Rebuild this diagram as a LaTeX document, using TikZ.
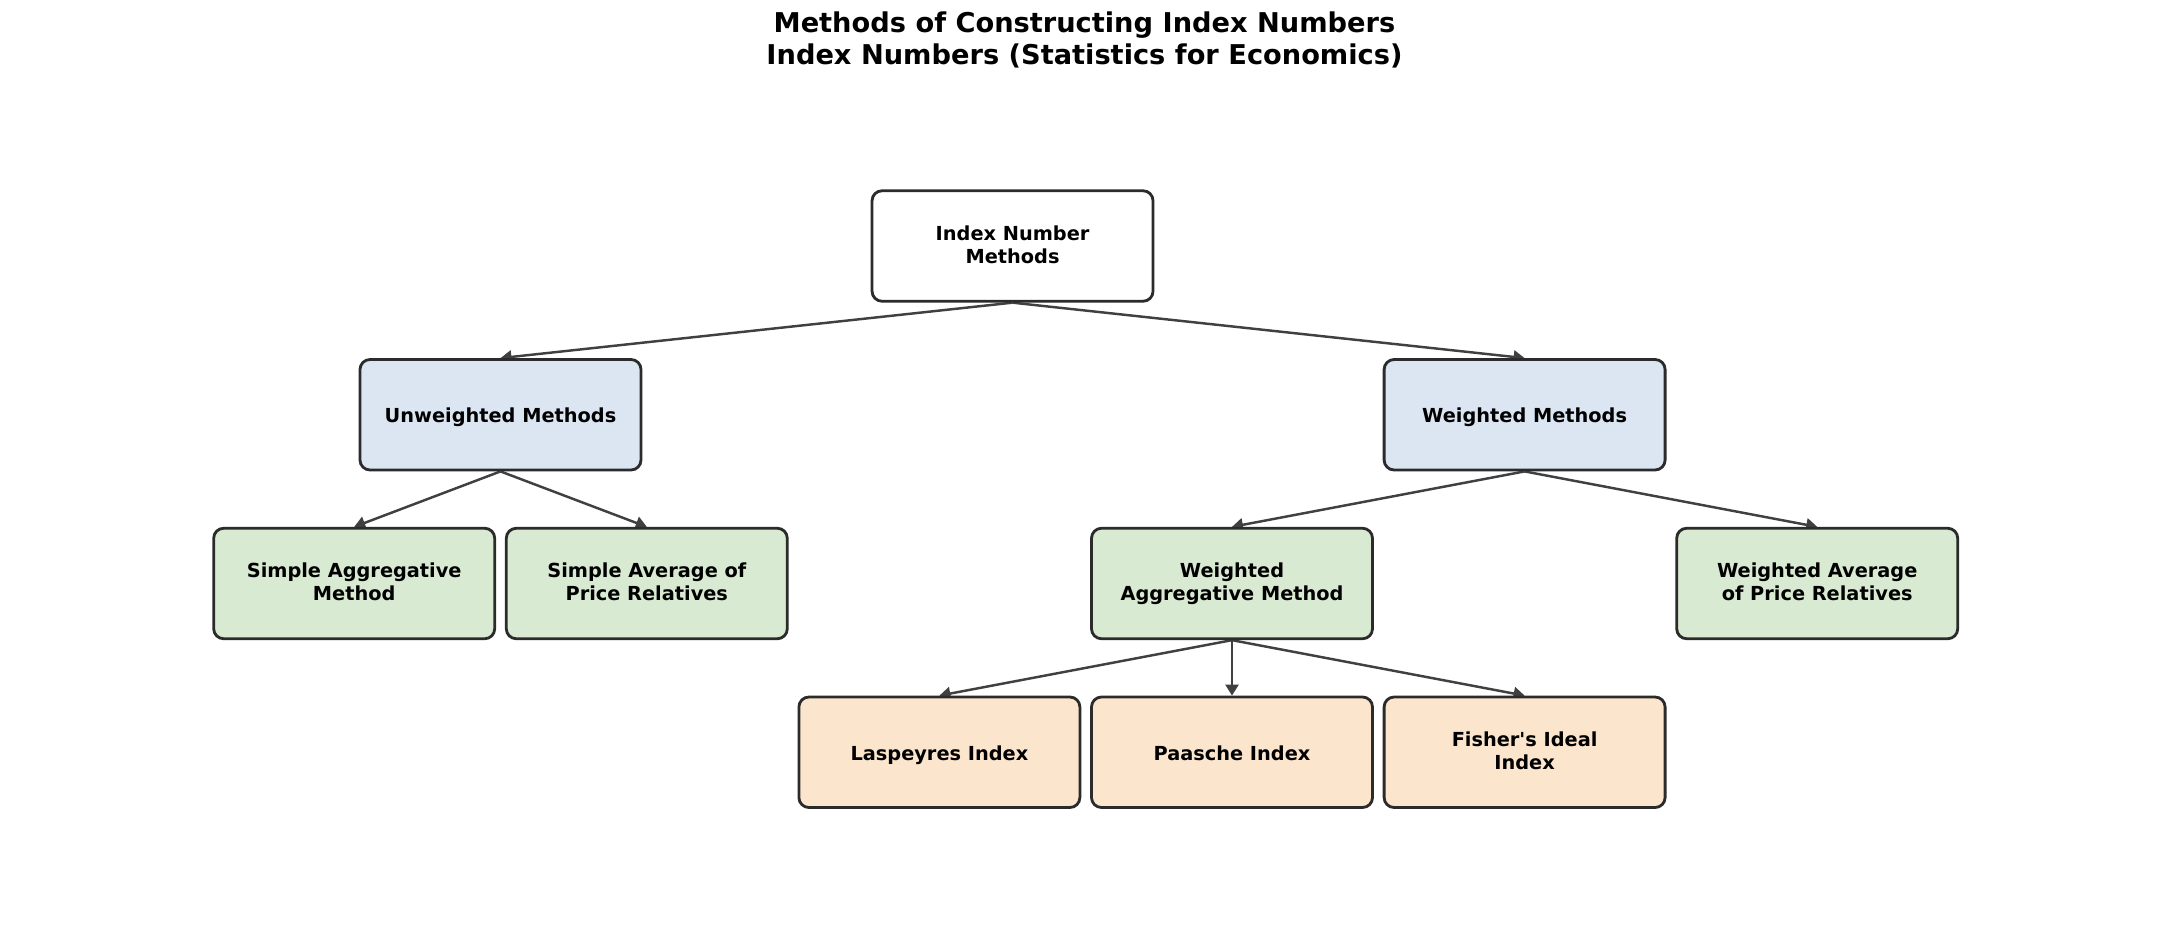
\documentclass[tikz,border=0pt]{standalone}
\usepackage{fontspec}
\setmainfont{DejaVu Sans}
\usepackage{tikz}
\usetikzlibrary{arrows.meta}
\usetikzlibrary{backgrounds}

\definecolor{boxline}{HTML}{2B2B2B}
\definecolor{edgeline}{HTML}{404040}
\definecolor{unwfill}{HTML}{DCE6F2}
\definecolor{methfill}{HTML}{D9EAD3}
\definecolor{idxfill}{HTML}{FCE5CD}

\tikzset{
    methodbox/.style={draw=boxline, line width=1.6pt, rounded corners=0.2cm,
        minimum width=5.62cm, minimum height=2.21cm, inner sep=0pt,
        align=center, font=\bfseries\fontsize{11}{13}\selectfont,
        execute at begin node={\rule{0pt}{11.5pt}},
        execute at end node={\rule[-2pt]{0pt}{2pt}}},
    rootbox/.style={methodbox, fill=white},
    groupbox/.style={methodbox, fill=unwfill},
    kindbox/.style={methodbox, fill=methfill},
    indexbox/.style={methodbox, fill=idxfill},
    edgearrow/.style={draw=edgeline, line width=1.4pt,
        -{Triangle[length=0.22cm, width=0.26cm]}}
}

\begin{document}
\begin{tikzpicture}
    \useasboundingbox (0,0) rectangle (43.38,-18.76);
    \node[font=\bfseries\fontsize{15.5}{18}\selectfont, align=center] (title)
        at (21.69,-0.80) {Methods of Constructing Index Numbers\\Index Numbers (Statistics for Economics)};

    \begin{scope}[shift={(24.64,-4.92)}, x=5.852cm, y=-3.375cm]
    \foreach \nname/\nx/\ny/\nstyle/\ntext in {
        root/-0.75/0/rootbox/{Index Number\\Methods},
        unw/-2.5/1/groupbox/{Unweighted Methods},
        wtd/1/1/groupbox/{Weighted Methods},
        sagg/-3/2/kindbox/{Simple Aggregative\\Method},
        savg/-2/2/kindbox/{Simple Average of\\Price Relatives},
        wagg/0/2/kindbox/{Weighted\\Aggregative Method},
        wavg/2/2/kindbox/{Weighted Average\\of Price Relatives},
        lasp/-1/3/indexbox/{Laspeyres Index},
        paas/0/3/indexbox/{Paasche Index},
        fish/1/3/indexbox/{Fisher\textquotesingle s Ideal\\Index}} {
        \node[\nstyle] (\nname) at (\nx,\ny) {\ntext};
    }
    \end{scope}

    % connectors sit behind the boxes
    \begin{scope}[on background layer]
    \foreach \from/\to in {root/unw, root/wtd, unw/sagg, unw/savg,
        wtd/wagg, wtd/wavg, wagg/lasp, wagg/paas, wagg/fish} {
        \draw[edgearrow] (\from.south) -- (\to.north);
    }
    \end{scope}
\end{tikzpicture}
\end{document}
